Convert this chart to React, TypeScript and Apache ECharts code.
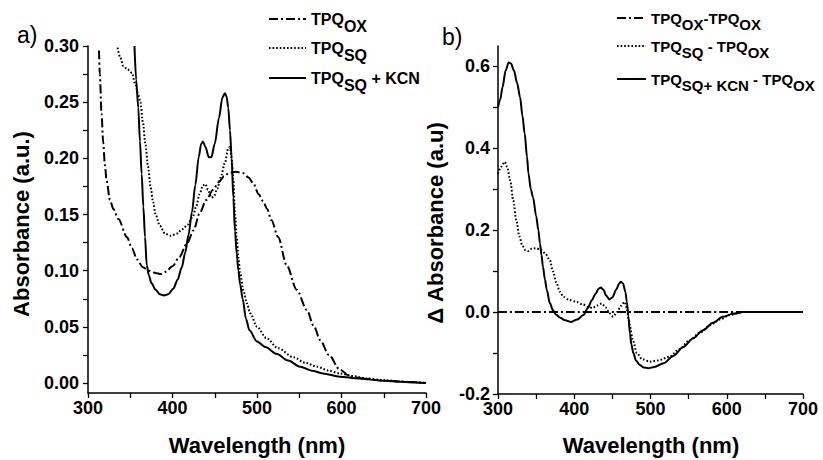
import React, { useEffect, useRef } from "react";
import * as echarts from "echarts";

// ---------- Panel a) absorbance spectra ----------
const oxWl = [313, 314, 316, 318, 320, 322, 326, 330, 336, 346, 352, 358, 365, 372, 380, 386, 392, 400, 408, 417, 425, 432, 440, 448, 455, 461, 467, 475, 483, 490, 496, 502, 507, 512, 517, 525, 535, 547, 559, 567, 575, 585, 598, 610, 625, 650, 675, 700];
const oxAbs = [0.296, 0.275, 0.24, 0.214, 0.194, 0.18, 0.163, 0.155, 0.146, 0.13, 0.12, 0.11, 0.103, 0.1, 0.098, 0.097, 0.099, 0.104, 0.112, 0.124, 0.136, 0.151, 0.163, 0.172, 0.179, 0.184, 0.187, 0.188, 0.187, 0.183, 0.177, 0.168, 0.162, 0.155, 0.145, 0.13, 0.105, 0.083, 0.065, 0.051, 0.038, 0.025, 0.012, 0.006, 0.004, 0.002, 0.001, 0.0];

const sqWl = [335, 338, 342, 347, 352, 356, 359, 362, 365, 368, 371, 374, 377, 380, 385, 391, 398, 405, 412, 418, 424, 428, 432, 436, 439, 442, 446, 449, 453, 457, 462, 466, 468, 470, 472, 474, 476, 478, 480, 484, 488, 492, 500, 511, 525, 543, 557, 571, 585, 598, 615, 630, 650, 675, 700];
const sqAbs = [0.2985, 0.29, 0.282, 0.279, 0.276, 0.266, 0.258, 0.25, 0.232, 0.212, 0.193, 0.175, 0.161, 0.15, 0.14, 0.133, 0.131, 0.133, 0.137, 0.141, 0.148, 0.157, 0.168, 0.176, 0.177, 0.172, 0.165, 0.166, 0.173, 0.183, 0.196, 0.209, 0.21, 0.2, 0.18, 0.15, 0.13, 0.112, 0.098, 0.082, 0.071, 0.062, 0.05, 0.04, 0.031, 0.023, 0.018, 0.0145, 0.011, 0.0085, 0.006, 0.004, 0.0025, 0.001, 0.0];

const kcnWl = [355, 357, 359.5, 361.5, 363.5, 365.5, 367.5, 369.5, 372, 375, 380, 385, 390, 395, 401, 406, 411, 415, 419, 423, 427, 431, 434, 436, 439, 443, 446, 450, 455, 459, 462, 464, 466, 468, 470, 472, 474, 476, 478, 480, 483, 487, 491, 500, 510, 523, 537, 551, 565, 578, 598, 620, 650, 675, 700];
const kcnAbs = [0.3, 0.27, 0.245, 0.215, 0.186, 0.157, 0.13, 0.105, 0.096, 0.089, 0.083, 0.079, 0.078, 0.079, 0.084, 0.092, 0.103, 0.116, 0.132, 0.152, 0.176, 0.201, 0.213, 0.215, 0.21, 0.201, 0.201, 0.213, 0.236, 0.254, 0.258, 0.255, 0.245, 0.225, 0.2, 0.165, 0.135, 0.115, 0.1, 0.088, 0.075, 0.057, 0.047, 0.037, 0.032, 0.026, 0.02, 0.0145, 0.011, 0.0085, 0.0056, 0.004, 0.002, 0.001, 0.0];

// ---------- Panel b) difference spectra ----------
const diffOxWl = [300, 700];
const diffOxVal = [0, 0];

const diffSqWl = [300, 304, 309, 312, 316, 320, 324, 328, 332, 336, 340, 344, 350, 357, 362, 368, 372, 377, 381, 386, 393, 403, 411, 418, 424, 430, 436, 441, 446, 451, 456, 461, 466, 469, 471, 473, 477, 482, 489, 499, 510, 525, 538, 552, 565, 578, 591, 604, 620, 650, 700];
const diffSqVal = [0.338, 0.355, 0.367, 0.355, 0.322, 0.273, 0.224, 0.185, 0.162, 0.151, 0.149, 0.155, 0.156, 0.151, 0.143, 0.127, 0.1, 0.07, 0.05, 0.037, 0.03, 0.025, 0.019, 0.013, 0.01, 0.016, 0.021, 0.012, -0.003, -0.011, 0.0, 0.015, 0.025, 0.01, -0.015, -0.036, -0.07, -0.1, -0.115, -0.121, -0.118, -0.109, -0.09, -0.068, -0.05, -0.032, -0.018, -0.007, 0, 0, 0];

const diffKcnWl = [300, 303, 306, 310, 314, 317, 321, 325, 329, 332, 335, 338, 340, 343, 346, 350, 353, 355, 357, 359, 361.5, 364, 368, 372, 376, 381, 388, 396, 404, 412, 418, 423, 428, 432, 435, 438, 442, 446, 450, 455, 459, 461, 464, 467, 469, 471, 473, 475, 477.5, 481, 486, 491, 497, 505, 517, 530, 543, 556, 569, 582, 595, 608, 622, 650, 700];
const diffKcnVal = [0.5, 0.52, 0.55, 0.59, 0.61, 0.607, 0.59, 0.56, 0.525, 0.48, 0.436, 0.38, 0.338, 0.3, 0.28, 0.235, 0.2, 0.168, 0.14, 0.11, 0.08, 0.054, 0.022, 0.005, -0.006, -0.013, -0.02, -0.024, -0.018, -0.007, 0.01, 0.029, 0.045, 0.057, 0.06, 0.055, 0.04, 0.031, 0.036, 0.055, 0.07, 0.074, 0.07, 0.05, 0.025, -0.01, -0.052, -0.08, -0.1, -0.118, -0.129, -0.135, -0.137, -0.134, -0.125, -0.107, -0.085, -0.064, -0.044, -0.026, -0.0115, -0.004, 0, 0, 0];

// ---------- Ticks ----------
const xLabelVals = [300, 400, 500, 600, 700];
const xTickVals = [300, 350, 400, 450, 500, 550, 600, 650, 700];
const leftYLabelVals = [0, 0.05, 0.1, 0.15, 0.2, 0.25, 0.3];
const leftYTickVals = [0, 0.025, 0.05, 0.075, 0.1, 0.125, 0.15, 0.175, 0.2, 0.225, 0.25, 0.275, 0.3];
const rightYLabelVals = [-0.2, 0, 0.2, 0.4, 0.6];
const rightYTickVals = [-0.2, -0.1, 0, 0.1, 0.2, 0.3, 0.4, 0.5, 0.6];

const zip = (xs: number[], ys: number[]) => xs.map((x, i) => [x, ys[i]]);

const FONT = '"Liberation Sans", Arial, Helvetica, sans-serif';
const DASHDOT = [9, 3, 2, 3];
const DOTTED = [1.6, 2];

function legendItem(x1: number, x2: number, y: number, dash: any, text: string, size: number, subShift: number) {
  return [
    {
      type: "line",
      shape: { x1, y1: y, x2, y2: y },
      style: { stroke: "#000", lineWidth: 2, lineDash: dash },
    },
    {
      type: "text",
      x: x2 + 5,
      y: y - size / 2,
      style: {
        text,
        fill: "#000",
        verticalAlign: "top",
        align: "left",
        rich: {
          m: { fontFamily: FONT, fontWeight: "bold", fontSize: size, lineHeight: size, verticalAlign: "top", fill: "#000" },
          s: { fontFamily: FONT, fontWeight: "bold", fontSize: size, lineHeight: size, verticalAlign: "top", padding: [subShift, 0, 0, 0], fill: "#000" },
        },
      },
    },
  ];
}

function axisCommon(labelVals: number[], tickVals: number[], fmt: (v: number) => string, size: number, margin: number) {
  return {
    axisLine: { show: true, onZero: false, lineStyle: { color: "#000", width: 1.5 } },
    axisTick: { show: true, customValues: tickVals, length: 5, lineStyle: { color: "#000", width: 1.3 } },
    axisLabel: {
      show: true,
      customValues: labelVals,
      formatter: (v: number) => fmt(v),
      color: "#000",
      fontFamily: FONT,
      fontWeight: "bold",
      fontSize: size,
      margin,
    },
    splitLine: { show: false },
  };
}

function lineSeries(name: string, data: number[][], xi: number, type: any, width = 2) {
  return {
    name,
    type: "line",
    xAxisIndex: xi,
    yAxisIndex: xi,
    data,
    showSymbol: false,
    symbol: "none",
    smooth: 0.3,
    smoothMonotone: "x",
    lineStyle: { color: "#000", width, type },
    silent: true,
  };
}

export default function App() {
  const ref = useRef<HTMLDivElement>(null);
  useEffect(() => {
    if (!ref.current) return;
    const chart = echarts.init(ref.current, undefined, { renderer: "svg" });
    const option: any = {
      animation: false,
      backgroundColor: "#fff",
      grid: [
        { left: 88, top: 46, width: 338, height: 347, containLabel: false },
        { left: 498, top: 46, width: 305, height: 348, containLabel: false },
      ],
      xAxis: [
        { type: "value", gridIndex: 0, min: 300, max: 700, ...axisCommon(xLabelVals, xTickVals, (v) => String(v), 18, 6) },
        { type: "value", gridIndex: 1, min: 300, max: 700, ...axisCommon(xLabelVals, xTickVals, (v) => String(v), 18, 6) },
      ],
      yAxis: [
        { type: "value", gridIndex: 0, min: -0.0089, max: 0.3, ...axisCommon(leftYLabelVals, leftYTickVals, (v) => v.toFixed(2), 18, 9) },
        { type: "value", gridIndex: 1, min: -0.2, max: 0.65, ...axisCommon(rightYLabelVals, rightYTickVals, (v) => v.toFixed(1), 18, 8) },
      ],
      series: [
        lineSeries("TPQox", zip(oxWl, oxAbs), 0, DASHDOT),
        lineSeries("TPQsq", zip(sqWl, sqAbs), 0, DOTTED),
        lineSeries("TPQsq+KCN", zip(kcnWl, kcnAbs), 0, "solid"),
        lineSeries("TPQox-TPQox", zip(diffOxWl, diffOxVal), 1, DASHDOT),
        lineSeries("TPQsq-TPQox", zip(diffSqWl, diffSqVal), 1, DOTTED),
        lineSeries("TPQsq+KCN-TPQox", zip(diffKcnWl, diffKcnVal), 1, "solid"),
      ],
      graphic: [
        { type: "text", x: 17, y: 35, style: { text: "a)", fill: "#000", font: `normal 23px ${FONT}`, verticalAlign: "middle", align: "left" } },
        { type: "text", x: 442, y: 37, style: { text: "b)", fill: "#000", font: `normal 23px ${FONT}`, verticalAlign: "middle", align: "left" } },
        { type: "text", x: 257, y: 445, style: { text: "Wavelength (nm)", fill: "#000", font: `bold 22px ${FONT}`, align: "center", verticalAlign: "middle" } },
        { type: "text", x: 651, y: 445, style: { text: "Wavelength (nm)", fill: "#000", font: `bold 22px ${FONT}`, align: "center", verticalAlign: "middle" } },
        { type: "text", x: 21, y: 224, rotation: Math.PI / 2, style: { text: "Absorbance (a.u.)", fill: "#000", font: `bold 22px ${FONT}`, align: "center", verticalAlign: "middle" } },
        { type: "text", x: 435, y: 223, rotation: Math.PI / 2, style: { text: "Δ Absorbance (a.u)", fill: "#000", font: `bold 22px ${FONT}`, align: "center", verticalAlign: "middle" } },
        ...legendItem(269, 306, 19, DASHDOT, "{m|TPQ}{s|OX}", 16, 7),
        ...legendItem(269, 306, 48, DOTTED, "{m|TPQ}{s|SQ}", 16, 7),
        ...legendItem(269, 306, 78, null, "{m|TPQ}{s|SQ}{m| + KCN}", 16, 7),
        ...legendItem(617, 646, 18, DASHDOT, "{m|TPQ}{s|OX}{m|-TPQ}{s|OX}", 15, 6),
        ...legendItem(617, 646, 46, DOTTED, "{m|TPQ}{s|SQ}{m| - TPQ}{s|OX}", 15, 6),
        ...legendItem(617, 646, 79, null, "{m|TPQ}{s|SQ+ KCN}{m| - TPQ}{s|OX}", 15, 6),
      ],
    };
    chart.setOption(option);
    return () => chart.dispose();
  }, []);
  return <div ref={ref} style={{ position: "fixed", left: 0, top: 0, width: 823, height: 460, background: "#fff" }} />;
}
